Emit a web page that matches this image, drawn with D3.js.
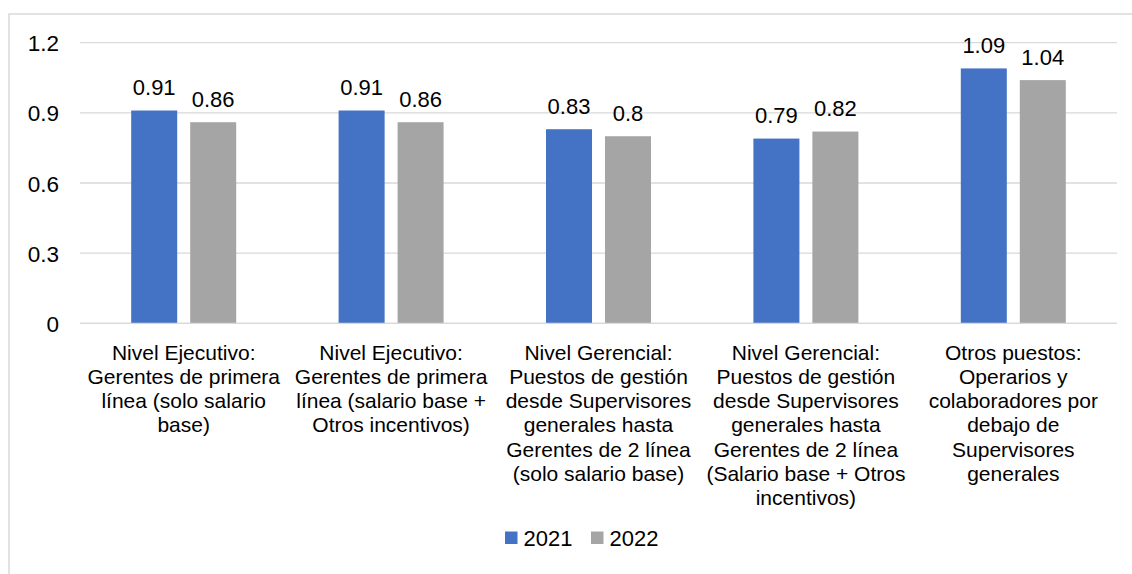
<!DOCTYPE html>
<html>
<head>
<meta charset="utf-8">
<script src="https://cdn.jsdelivr.net/npm/d3@7"></script>
<style>
  html, body { margin: 0; padding: 0; background: #fff; }
  svg { display: block; font-family: "Liberation Sans", Arial, sans-serif; }
</style>
</head>
<body>
<svg id="chart" width="1132" height="574"></svg>
<script>
// Category labels (line breaks as set in the chart)
const categories = [
  "Nivel Ejecutivo:\nGerentes de primera\nlínea (solo salario\nbase)",
  "Nivel Ejecutivo:\nGerentes de primera\nlínea (salario base +\nOtros incentivos)",
  "Nivel Gerencial:\nPuestos de gestión\ndesde Supervisores\ngenerales hasta\nGerentes de 2 línea\n(solo salario base)",
  "Nivel Gerencial:\nPuestos de gestión\ndesde Supervisores\ngenerales hasta\nGerentes de 2 línea\n(Salario base + Otros\nincentivos)",
  "Otros puestos:\nOperarios y\ncolaboradores por\ndebajo de\nSupervisores\ngenerales"
];
const seriesNames = ["2021", "2022"];
const values2021 = [0.91, 0.91, 0.83, 0.79, 1.09];
const values2022 = [0.86, 0.86, 0.80, 0.82, 1.04];
const yTicks = [0, 0.3, 0.6, 0.9, 1.2];
const colors = ["#4472C4", "#A5A5A5"];

const series = [values2021, values2022];

const svg = d3.select("#chart");
const plot = { left: 80, right: 1117, top: 42.7, bottom: 323.3 };
const gridColor = "#d9d9d9";

// Outer chart frame
svg.append("rect")
  .attr("x", 9).attr("y", 14)
  .attr("width", 1140).attr("height", 600)
  .attr("fill", "none")
  .attr("stroke", gridColor)
  .attr("stroke-width", 1.5);

const y = d3.scaleLinear().domain([0, 1.2]).range([plot.bottom, plot.top]);
const x0 = d3.scaleBand().domain(d3.range(categories.length))
  .range([plot.left, plot.right]).paddingInner(0).paddingOuter(0);
const x1 = d3.scaleBand().domain(seriesNames)
  .range([0, x0.bandwidth()]).paddingInner(0.22).paddingOuter(0.868);

// Horizontal gridlines
svg.append("g").selectAll("line")
  .data(yTicks)
  .join("line")
  .attr("x1", plot.left).attr("x2", plot.right)
  .attr("y1", d => y(d)).attr("y2", d => y(d))
  .attr("stroke", gridColor)
  .attr("stroke-width", 1.3);

// Y axis tick labels
const yAxis = d3.axisLeft(y).tickValues(yTicks).tickFormat(d3.format("")).tickSize(0).tickPadding(0);
const gy = svg.append("g").attr("transform", `translate(59,0)`).call(yAxis);
gy.select(".domain").remove();
gy.selectAll("text")
  .attr("font-family", "Liberation Sans, Arial, sans-serif")
  .attr("font-size", 22.5)
  .attr("fill", "#000")
  .attr("dy", "0.36em");

// Bars and value labels
const groups = svg.append("g").selectAll("g")
  .data(categories.map((c, i) => i))
  .join("g")
  .attr("transform", i => `translate(${x0(i)},0)`);

groups.selectAll("rect")
  .data(i => seriesNames.map((s, k) => ({ s, k, v: series[k][i] })))
  .join("rect")
  .attr("x", d => x1(d.s))
  .attr("width", x1.bandwidth())
  .attr("y", d => y(d.v))
  .attr("height", d => y(0) - y(d.v))
  .attr("fill", d => colors[d.k]);

groups.selectAll("text.val")
  .data(i => seriesNames.map((s, k) => ({ s, k, v: series[k][i] })))
  .join("text")
  .attr("class", "val")
  .attr("x", d => x1(d.s) + x1.bandwidth() / 2)
  .attr("y", d => y(d.v) - 15.5)
  .attr("text-anchor", "middle")
  .attr("font-size", 22)
  .attr("fill", "#000")
  .text(d => String(d.v));

// Zero baseline drawn over bars
svg.append("line")
  .attr("x1", plot.left).attr("x2", plot.right)
  .attr("y1", y(0)).attr("y2", y(0))
  .attr("stroke", gridColor).attr("stroke-width", 1.3);

// Category labels (multi-line)
const lineH = 24.3;
svg.append("g").selectAll("text")
  .data(categories)
  .join("text")
  .attr("text-anchor", "middle")
  .attr("font-size", 21)
  .attr("fill", "#000")
  .each(function (d, i) {
    const t = d3.select(this);
    d.split("\n").forEach((line, j) => {
      t.append("tspan")
        .attr("x", x0(i) + x0.bandwidth() / 2)
        .attr("y", 359.5 + j * lineH)
        .text(line);
    });
  });

// Legend
const legendItems = [{ name: "2021", x: 505 }, { name: "2022", x: 591 }];
const lg = svg.append("g").selectAll("g")
  .data(legendItems)
  .join("g")
  .attr("transform", d => `translate(${d.x},0)`);
lg.append("rect")
  .attr("x", 0).attr("y", 531.5)
  .attr("width", 12.5).attr("height", 12.5)
  .attr("fill", (d, i) => colors[i]);
lg.append("text")
  .attr("x", 18.5).attr("y", 545.7)
  .attr("font-size", 22)
  .attr("fill", "#000")
  .text(d => d.name);
</script>
</body>
</html>
